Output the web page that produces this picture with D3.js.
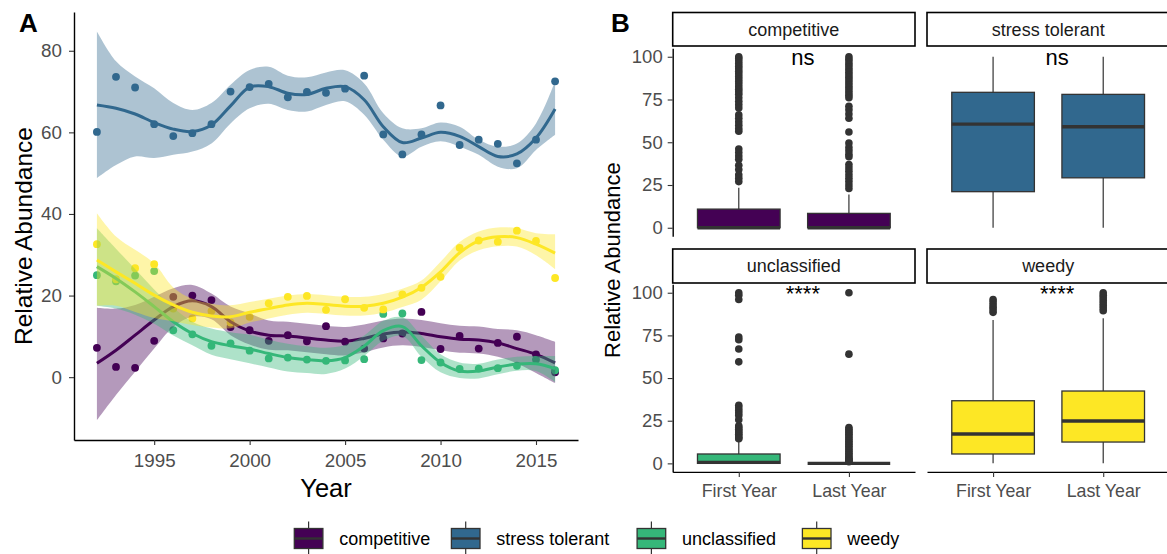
<!DOCTYPE html>
<html>
<head>
<meta charset="utf-8">
<script src="https://cdn.jsdelivr.net/npm/d3@7"></script>
<style>
  html, body { margin: 0; padding: 0; background: #ffffff; }
  svg { display: block; font-family: "Liberation Sans", Arial, sans-serif; }
</style>
</head>
<body>
<svg id="chart" width="1167" height="554"></svg>
<script>
// ---------- data ----------
const groups = ["competitive", "stress tolerant", "unclassified", "weedy"];
const groupColors = ["#440154", "#31688E", "#35B779", "#FDE725"];
const years = [1992, 1993, 1994, 1995, 1996, 1997, 1998, 1999, 2000, 2001, 2002, 2003,
               2004, 2005, 2006, 2007, 2008, 2009, 2010, 2011, 2012, 2013, 2014, 2015, 2016];

// yearly relative abundance (points)
const competitivePts = [7.2, 2.5, 2.3, 8.9, 19.7, 20.0, 18.9, 12.3, 11.5, 8.9, 10.3, 8.8, 12.5, 8.7, 7.0, 9.5, 10.7, 16.0, 6.9, 10.1, 7.0, 8.4, 9.9, 5.6, 1.2];
const stressPts      = [60.1, 73.6, 71.0, 62.0, 59.1, 59.8, 62.0, 70.0, 71.1, 71.9, 68.6, 69.9, 69.7, 70.7, 73.9, 59.5, 54.6, 59.5, 66.6, 56.9, 58.2, 57.2, 52.4, 58.2, 72.5];
const unclassPts     = [25.0, 23.5, 24.9, 26.0, 11.5, 10.5, 7.7, 8.3, 6.5, 4.6, 4.8, 4.3, 4.0, 4.1, 4.4, 15.5, 15.6, 4.2, 3.6, 2.0, 2.1, 2.2, 2.8, 4.3, 1.7];
const weedyPts       = [32.6, 24.0, 26.7, 27.7, 16.8, 14.4, 16.2, 13.4, 14.8, 18.1, 19.7, 19.9, 16.5, 19.1, 17.0, 16.6, 20.3, 21.9, 24.6, 31.7, 33.5, 33.2, 35.9, 33.4, 24.3];

// smoothed trend with confidence band
const competitiveFit = [3.4, 6.6, 10.3, 14.0, 17.3, 18.7, 17.3, 13.6, 11.3, 10.3, 10.1, 9.6, 9.1, 8.8, 9.5, 10.6, 11.1, 10.7, 9.9, 9.3, 9.1, 8.4, 7.0, 5.6, 3.5];
const competitiveLo  = [-10.6, -4.4, 1.3, 7.0, 12.3, 14.8, 14.2, 10.3, 8.0, 6.7, 6.6, 6.1, 5.6, 5.3, 6.1, 7.3, 7.8, 7.4, 6.6, 6.0, 5.8, 5.0, 3.4, 1.0, -1.5];
const competitiveHi  = [17.0, 16.8, 17.7, 19.7, 21.8, 22.6, 20.5, 17.3, 15.6, 13.9, 13.6, 13.1, 12.6, 12.3, 12.9, 13.9, 14.4, 14.0, 13.2, 12.6, 12.4, 11.8, 11.5, 10.3, 8.7];

const stressFit = [66.7, 65.9, 64.5, 62.4, 60.8, 60.2, 61.8, 66.5, 71.1, 71.2, 69.6, 69.3, 70.8, 71.2, 68.0, 61.4, 57.5, 58.6, 60.0, 59.0, 56.5, 54.1, 54.7, 58.6, 65.7];
const stressLo  = [48.8, 52.0, 54.1, 53.7, 54.5, 55.3, 57.3, 62.2, 65.9, 67.0, 65.5, 65.1, 66.7, 67.6, 64.3, 58.2, 54.1, 56.5, 57.8, 56.5, 54.5, 51.6, 51.2, 55.7, 59.4];
const stressHi  = [84.7, 77.4, 73.7, 70.8, 67.2, 65.5, 67.2, 71.7, 75.3, 76.1, 73.9, 73.5, 74.7, 75.2, 72.0, 64.7, 61.0, 61.0, 62.4, 61.4, 58.2, 56.5, 57.3, 62.2, 72.5];

const unclassFit = [27.1, 24.2, 20.9, 17.3, 13.6, 10.7, 8.7, 7.7, 6.9, 5.8, 4.8, 4.3, 4.0, 4.8, 7.6, 11.4, 12.4, 7.7, 3.6, 1.5, 1.5, 2.5, 3.2, 3.3, 2.1];
const unclassLo  = [17.5, 16.8, 15.3, 13.1, 10.2, 7.8, 5.5, 4.4, 3.4, 2.4, 1.4, 1.0, 0.8, 2.1, 5.2, 8.9, 10.1, 5.0, 1.2, -0.2, -0.3, 0.7, 1.6, 1.5, -1.2];
const unclassHi  = [36.5, 31.5, 26.5, 21.5, 17.0, 13.6, 11.9, 11.0, 10.4, 9.2, 8.2, 7.6, 7.2, 7.9, 10.2, 13.8, 14.7, 10.2, 5.6, 3.6, 3.3, 4.3, 5.0, 5.2, 5.2];

const weedyFit = [28.7, 25.8, 23.0, 20.1, 17.7, 15.9, 15.0, 14.8, 15.9, 16.8, 17.7, 18.1, 17.8, 17.4, 17.4, 18.1, 19.6, 22.0, 25.8, 30.5, 33.4, 34.4, 34.2, 32.6, 30.4];
const weedyLo  = [17.5, 17.5, 16.0, 14.5, 13.7, 12.8, 12.2, 12.0, 13.4, 14.4, 15.3, 15.8, 15.5, 15.1, 15.1, 15.8, 17.2, 19.0, 23.5, 28.6, 31.1, 32.1, 32.0, 29.9, 26.5];
const weedyHi  = [40.2, 34.5, 31.2, 27.9, 22.0, 19.2, 18.0, 17.6, 18.4, 19.2, 20.0, 20.4, 20.1, 19.7, 19.7, 20.4, 21.7, 23.7, 28.3, 33.1, 35.7, 36.7, 36.5, 35.3, 35.0];

const seriesPts = [competitivePts, stressPts, unclassPts, weedyPts];
const seriesFit = [competitiveFit, stressFit, unclassFit, weedyFit];
const seriesLo  = [competitiveLo, stressLo, unclassLo, weedyLo];
const seriesHi  = [competitiveHi, stressHi, unclassHi, weedyHi];

const yearTicks = [1995, 2000, 2005, 2010, 2015];
const abundTicksA = [0, 20, 40, 60, 80];

// first vs last year distributions (box summaries, per group)
const periods = ["First Year", "Last Year"];
const boxMinFirst = [0, 0, 0, 0];
const boxQ1First  = [0, 21.1, 0, 5.5];
const boxMedFirst = [0, 60.6, 0.6, 17.2];
const boxQ3First  = [10.9, 79.2, 5.5, 36.7];
const boxMaxFirst = [23.4, 100, 12.7, 84];
const boxMinLast  = [0, 0, 0, 0];
const boxQ1Last   = [0, 29.2, 0, 12.5];
const boxMedLast  = [0, 59.1, 0, 24.8];
const boxQ3Last   = [8.4, 78.0, 0, 42.4];
const boxMaxLast  = [19.5, 100, 0, 85];

const compFirstOut  = [100, 99, 97.5, 96, 94.5, 93, 91.5, 90, 88.5, 87, 85.5, 84, 82.5, 81, 79.5, 78, 76, 74, 72, 70, 66, 64, 62, 60, 58, 56.5, 46, 44, 42, 40, 36.5, 34, 31, 29, 27];
const compLastOut   = [100, 98.5, 97, 95.5, 94, 92.5, 91, 89.5, 88, 86.5, 85, 83.5, 82, 80.5, 79, 77.5, 76, 71, 69, 66.5, 64, 56, 49.5, 47, 45, 43, 41.5, 37, 35, 33, 31, 29, 27, 25, 23];
const stressFirstOut = [];
const stressLastOut  = [];
const unclFirstOut  = [100, 98.5, 96, 74, 72.5, 67, 59.5, 34, 32.5, 31, 29.5, 28, 25.5, 22, 21, 20, 19, 18, 17, 16, 15, 14.5];
const unclLastOut   = [100, 64, 21, 20, 19, 18, 17, 16, 15, 14, 13, 12, 11, 10, 9, 8, 7, 6, 5, 4, 3, 2.5, 2, 1.5, 1];
const weedyFirstOut = [96, 94.5, 93, 91.5, 90, 88.5];
const weedyLastOut  = [100, 98.5, 97, 95.5, 94, 92.5, 91, 89.5];
const outFirst = [compFirstOut, stressFirstOut, unclFirstOut, weedyFirstOut];
const outLast  = [compLastOut, stressLastOut, unclLastOut, weedyLastOut];

const sigLabels = ["ns", "ns", "****", "****"];
const abundTicksB = [0, 25, 50, 75, 100];

// ---------- drawing ----------
const svg = d3.select("#chart");
const TICK_COL = "#4D4D4D";
const FONT = '"Liberation Sans", Arial, sans-serif';

// ===== Panel A: yearly trends =====
const A = { left: 74, right: 578, top: 12, bottom: 440 };
const xA = d3.scaleLinear().domain([1990.8, 2017.2]).range([A.left, A.right]);
const yA = d3.scaleLinear().domain([-15.4, 89.5]).range([A.bottom, A.top]);

const gA = svg.append("g");

// points first
groups.forEach((g, gi) => {
  gA.append("g").selectAll("circle")
    .data(years.map((yr, i) => ({ yr, v: seriesPts[gi][i] })))
    .join("circle")
    .attr("cx", d => xA(d.yr))
    .attr("cy", d => yA(d.v))
    .attr("r", 3.9)
    .attr("fill", groupColors[gi]);
});

// smooth bands and lines per group
const area = d3.area().curve(d3.curveCatmullRom.alpha(0.5))
  .x(d => xA(d.yr)).y0(d => yA(d.lo)).y1(d => yA(d.hi));
const line = d3.line().curve(d3.curveCatmullRom.alpha(0.5))
  .x(d => xA(d.yr)).y(d => yA(d.fit));

groups.forEach((g, gi) => {
  const rows = years.map((yr, i) => ({
    yr, fit: seriesFit[gi][i], lo: seriesLo[gi][i], hi: seriesHi[gi][i]
  }));
  gA.append("path").datum(rows).attr("d", area)
    .attr("fill", groupColors[gi]).attr("fill-opacity", 0.4);
  gA.append("path").datum(rows).attr("d", line)
    .attr("fill", "none").attr("stroke", groupColors[gi])
    .attr("stroke-width", 3).attr("stroke-linecap", "butt");
});

function styleAxis(sel, fontSize) {
  sel.select(".domain").attr("stroke", "#000").attr("stroke-width", 1.4);
  sel.selectAll(".tick line").attr("stroke", "#333").attr("stroke-width", 1.1);
  sel.selectAll(".tick text").attr("fill", TICK_COL)
    .style("font-family", FONT).style("font-size", fontSize + "px");
}

const axAY = gA.append("g").attr("transform", `translate(${A.left},0)`)
  .call(d3.axisLeft(yA).tickValues(abundTicksA).tickSize(5).tickSizeOuter(0).tickPadding(7));
styleAxis(axAY, 18.8);
const axAX = gA.append("g").attr("transform", `translate(0,${A.bottom})`)
  .call(d3.axisBottom(xA).tickValues(yearTicks).tickFormat(d3.format("d")).tickSize(5).tickSizeOuter(0).tickPadding(9));
styleAxis(axAX, 18.8);

gA.append("text").attr("x", (A.left + A.right) / 2).attr("y", 497)
  .attr("text-anchor", "middle").style("font-size", "25.5px").attr("fill", "#000").text("Year");
gA.append("text").attr("transform", `translate(32,236) rotate(-90)`)
  .attr("text-anchor", "middle").style("font-size", "24.5px").attr("fill", "#000").text("Relative Abundance");
svg.append("text").attr("x", 19).attr("y", 32).style("font-size", "26px")
  .style("font-weight", "bold").attr("fill", "#000").text("A");

// ===== Panel B: first vs last year boxplots =====
svg.append("text").attr("x", 611).attr("y", 32).style("font-size", "26px")
  .style("font-weight", "bold").attr("fill", "#000").text("B");

const cols = [[672.7, 915], [927, 1169.3]];
const rows = [
  { strip: [12.5, 46], panel: [48.2, 236.3] },
  { strip: [249, 283], panel: [284.2, 471.9] }
];

groups.forEach((g, gi) => {
  const col = cols[gi % 2], row = rows[Math.floor(gi / 2)];
  const xB = d3.scalePoint().domain(periods).range(col).padding(0.6);
  const yB = d3.scaleLinear().domain([-5, 105]).range([row.panel[1], row.panel[0]]);
  const bw = xB.step() * 0.75;
  const gp = svg.append("g");

  // strip
  gp.append("rect").attr("x", col[0]).attr("y", row.strip[0])
    .attr("width", col[1] - col[0]).attr("height", row.strip[1] - row.strip[0])
    .attr("fill", "#fff").attr("stroke", "#000").attr("stroke-width", 1.6);
  gp.append("text").attr("x", (col[0] + col[1]) / 2).attr("y", (row.strip[0] + row.strip[1]) / 2 + 6.3)
    .attr("text-anchor", "middle").style("font-size", "18px").attr("fill", "#1A1A1A").text(g);

  const stats = [
    { p: periods[0], mn: boxMinFirst[gi], q1: boxQ1First[gi], md: boxMedFirst[gi], q3: boxQ3First[gi], mx: boxMaxFirst[gi], out: outFirst[gi] },
    { p: periods[1], mn: boxMinLast[gi], q1: boxQ1Last[gi], md: boxMedLast[gi], q3: boxQ3Last[gi], mx: boxMaxLast[gi], out: outLast[gi] }
  ];

  stats.forEach(s => {
    const cx = xB(s.p);
    // whiskers
    gp.append("line").attr("x1", cx).attr("x2", cx).attr("y1", yB(s.q3)).attr("y2", yB(s.mx))
      .attr("stroke", "#333").attr("stroke-width", 1.2);
    gp.append("line").attr("x1", cx).attr("x2", cx).attr("y1", yB(s.q1)).attr("y2", yB(s.mn))
      .attr("stroke", "#333").attr("stroke-width", 1.2);
    // box
    gp.append("rect").attr("x", cx - bw / 2).attr("y", yB(s.q3))
      .attr("width", bw).attr("height", Math.max(0, yB(s.q1) - yB(s.q3)))
      .attr("fill", groupColors[gi]).attr("stroke", "#333").attr("stroke-width", 1.3);
    // median
    gp.append("line").attr("x1", cx - bw / 2).attr("x2", cx + bw / 2)
      .attr("y1", yB(s.md)).attr("y2", yB(s.md))
      .attr("stroke", "#333").attr("stroke-width", 3.4);
    // outliers
    gp.append("g").selectAll("circle").data(s.out).join("circle")
      .attr("cx", cx).attr("cy", d => yB(d)).attr("r", 3.8).attr("fill", "#333");
  });

  // significance label
  const mid = (xB(periods[0]) + xB(periods[1])) / 2;
  gp.append("text").attr("x", mid + 9).attr("y", yB(95.1))
    .attr("text-anchor", "middle").style("font-size", "22px").attr("fill", "#000")
    .text(sigLabels[gi]);

  // axes: y on left column, x on bottom row
  if (gi % 2 === 0) {
    const ay = gp.append("g").attr("transform", `translate(${col[0]},0)`)
      .call(d3.axisLeft(yB).tickValues(abundTicksB).tickSize(5).tickSizeOuter(0).tickPadding(5));
    styleAxis(ay, 18.5);
  }
  if (gi >= 2) {
    const ax = gp.append("g").attr("transform", `translate(0,${row.panel[1]})`)
      .call(d3.axisBottom(xB).tickSize(5).tickSizeOuter(0).tickPadding(7));
    styleAxis(ax, 17.8);
  }
});

svg.append("text").attr("transform", `translate(620,${(rows[0].panel[0] + rows[1].panel[1]) / 2}) rotate(-90)`)
  .attr("text-anchor", "middle").style("font-size", "22px").attr("fill", "#000").text("Relative Abundance");

// ===== Legend =====
const legend = svg.append("g");
const keyX = [294.3, 451.4, 637.1, 802.4];
const keyW = 28.6, keyH = 20, keyCy = 538.5;
groups.forEach((g, gi) => {
  const lx = keyX[gi];
  const k = legend.append("g");
  const cx = lx + keyW / 2;
  k.append("line").attr("x1", cx).attr("x2", cx).attr("y1", keyCy - 17).attr("y2", keyCy + 17)
    .attr("stroke", "#333").attr("stroke-width", 1.2);
  k.append("rect").attr("x", lx).attr("y", keyCy - keyH / 2).attr("width", keyW).attr("height", keyH)
    .attr("fill", groupColors[gi]).attr("stroke", "#333").attr("stroke-width", 1.3);
  k.append("line").attr("x1", lx).attr("x2", lx + keyW).attr("y1", keyCy).attr("y2", keyCy)
    .attr("stroke", "#333").attr("stroke-width", 2.4);
  k.append("text").attr("x", lx + keyW + 16.3).attr("y", keyCy + 6.5)
    .style("font-size", "18px").attr("fill", "#000").text(g);
});
</script>
</body>
</html>
